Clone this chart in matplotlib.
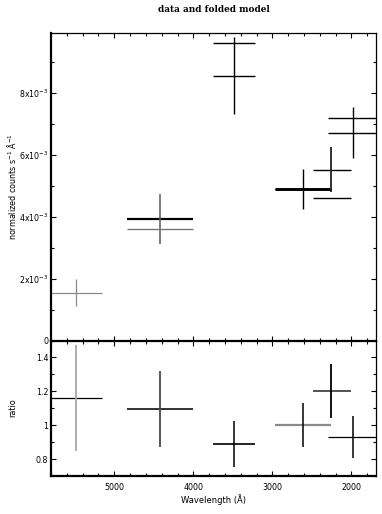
import numpy as np
from matplotlib import pyplot as plt
from matplotlib.ticker import MultipleLocator

# bin centres and edges (Angstrom); edge_red is the long-wavelength side
wave = np.array([5481, 4427, 3486, 2613, 2262, 1987])
edge_red = np.array([5820, 4845, 3752, 2962, 2486, 2296])
edge_blue = np.array([5152, 4005, 3215, 2262, 2000, 1680])

# data and folded model, counts s^-1 A^-1
flux = np.array([1.546e-3, 3.945e-3, 8.567e-3, 4.911e-3, 5.533e-3, 6.720e-3])
flux_err = np.array([0.43e-3, 0.81e-3, 1.25e-3, 0.64e-3, 0.72e-3, 0.83e-3])
model = np.array([np.nan, 3.62e-3, 9.617e-3, 4.911e-3, 4.626e-3, 7.186e-3])

# data / model
ratio = np.array([1.161, 1.096, 0.890, 0.999, 1.200, 0.931])
ratio_err = np.array([0.313, 0.226, 0.136, 0.130, 0.160, 0.122])

# drawing styles for each point (grey / black as in the original print)
top_vcol = ['#8a8a8a', '#5a5a5a', 'k', 'k', '#222222', 'k']
top_hcol = ['#8a8a8a', 'k', 'k', 'k', 'k', 'k']
top_hlw = [0.9, 1.6, 1.0, 2.1, 1.0, 1.0]
top_vlw = [0.9, 1.1, 1.0, 1.0, 1.3, 1.0]
mod_col = ['#777777', '#777777', 'k', 'k', 'k', 'k']
rat_vcol = ['#a8a8a8', '#4a4a4a', 'k', 'k', 'k', 'k']
rat_hcol = ['k', '#333333', 'k', '#8a8a8a', '#444444', 'k']
rat_hlw = [0.9, 1.4, 1.2, 1.6, 1.3, 0.9]
rat_vlw = [1.3, 1.3, 1.1, 1.1, 1.3, 1.1]

xlo = wave - edge_blue
xhi = edge_red - wave

fig = plt.figure(figsize=(3.82, 5.14), dpi=100)
ax1 = fig.add_axes([0.1335, 0.3375, 0.8508, 0.5989])
ax2 = fig.add_axes([0.1335, 0.0739, 0.8508, 0.2636], sharex=ax1)

for i in range(len(wave)):
    ax1.errorbar(wave[i], flux[i], xerr=[[xlo[i]], [xhi[i]]], fmt='none',
                 ecolor=top_hcol[i], elinewidth=top_hlw[i], capsize=0)
    ax1.errorbar(wave[i], flux[i], yerr=flux_err[i], fmt='none',
                 ecolor=top_vcol[i], elinewidth=top_vlw[i], capsize=0)
    if not np.isnan(model[i]):
        ax1.hlines(model[i], edge_blue[i], edge_red[i], colors=mod_col[i], linewidth=1.0)

    ax2.errorbar(wave[i], ratio[i], xerr=[[xlo[i]], [xhi[i]]], fmt='none',
                 ecolor=rat_hcol[i], elinewidth=rat_hlw[i], capsize=0)
    ax2.errorbar(wave[i], ratio[i], yerr=ratio_err[i], fmt='none',
                 ecolor=rat_vcol[i], elinewidth=rat_vlw[i], capsize=0)

ax1.set_xlim(5800, 1690)
ax1.set_ylim(0, 0.00996)
ax2.set_ylim(0.7, 1.5)

ax1.set_yticks([0, 2e-3, 4e-3, 6e-3, 8e-3],
               ['0', '2x10$^{-3}$', '4x10$^{-3}$', '6x10$^{-3}$', '8x10$^{-3}$'])
ax1.yaxis.set_minor_locator(MultipleLocator(1e-3))
ax2.set_yticks([0.8, 1.0, 1.2, 1.4], ['0.8', '1', '1.2', '1.4'])
ax2.yaxis.set_minor_locator(MultipleLocator(0.1))
ax2.set_xticks([5000, 4000, 3000, 2000], ['5000', '4000', '3000', '2000'])
ax2.xaxis.set_minor_locator(MultipleLocator(200))

for ax in (ax1, ax2):
    ax.tick_params(which='both', direction='in', top=True, right=True,
                   labelsize=5.7, width=0.8, color='k')
    ax.tick_params(which='major', length=3.8)
    ax.tick_params(which='minor', length=2.2)
    for side in ('left', 'bottom'):
        ax.spines[side].set_linewidth(1.6)
    for side in ('top', 'right'):
        ax.spines[side].set_linewidth(0.9)
ax1.tick_params(labelbottom=False, pad=2)
ax2.tick_params(pad=2)
ax2.tick_params(axis='x', pad=5)

fig.text(0.5589, 0.982, 'data and folded model', ha='center', va='center',
         fontsize=6.4, fontweight='bold', family='DejaVu Serif')
fig.text(0.031, 0.637, 'normalized counts s$^{-1}$ Å$^{-1}$', rotation=90,
         ha='center', va='center', fontsize=5.8)
fig.text(0.033, 0.206, 'ratio', rotation=90, ha='center', va='center', fontsize=5.8)
fig.text(0.5589, 0.028, 'Wavelength (Å)', ha='center', va='center', fontsize=6.0)

plt.savefig('out.png', dpi=100)
